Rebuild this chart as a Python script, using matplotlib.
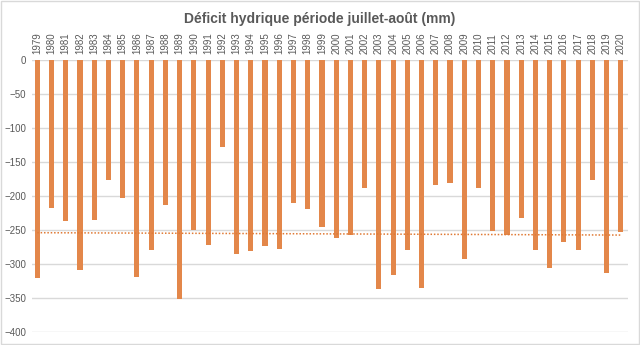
import matplotlib.pyplot as plt
import numpy as np

plt.rcParams['font.family'] = ['Liberation Sans', 'DejaVu Sans']

# Déficit hydrique juillet-août, en mm
years = list(range(1979, 2021))
deficit = [-321, -218, -237, -309, -235, -176, -203, -319, -280, -213,
           -352, -250, -272, -128, -286, -281, -273, -278, -210, -219,
           -245, -262, -257, -188, -337, -317, -279, -336, -184, -181,
           -293, -189, -251, -257, -232, -280, -306, -268, -279, -176,
           -313, -253]

bar_color = '#E3874A'
text_color = '#595959'
grid_color = '#D9D9D9'

fig = plt.figure(figsize=(6.4, 3.45), dpi=100)
ax = fig.add_axes([0.05, 0.038, 0.931, 0.788])

x = np.arange(len(years))
ax.bar(x, deficit, width=0.36, color=bar_color, zorder=3)

# tendance linéaire
coef = np.polyfit(x, deficit, 1)
ax.plot(x, np.polyval(coef, x), linestyle=(0, (1, 1.2)), color='#E07A35',
        linewidth=1.1, zorder=4)

ax.set_xlim(-0.37, len(years) - 0.51)
ax.set_ylim(-400, 0)
ax.set_yticks(np.arange(-400, 1, 50))
ax.yaxis.grid(True, color=grid_color, linewidth=1.0, zorder=0)

ax.xaxis.tick_top()
ax.set_xticks(x)
ax.set_xticklabels([str(y) for y in years], rotation=90)
ax.tick_params(axis='x', length=0, pad=4, labelsize=7, colors=text_color)
ax.tick_params(axis='y', length=0, pad=4, labelsize=7, colors=text_color)

for s in ax.spines.values():
    s.set_visible(False)

fig.text(0.5, 0.945, 'Déficit hydrique période juillet-août (mm)',
         ha='center', va='center', fontsize=10, fontweight='bold',
         color=text_color)

# cadre du graphique
fig.patches.append(plt.Rectangle((0.002, 0.003), 0.996, 0.994,
                                 transform=fig.transFigure, fill=False,
                                 edgecolor=grid_color, linewidth=1.0))

fig.savefig('out.png', dpi=100)
